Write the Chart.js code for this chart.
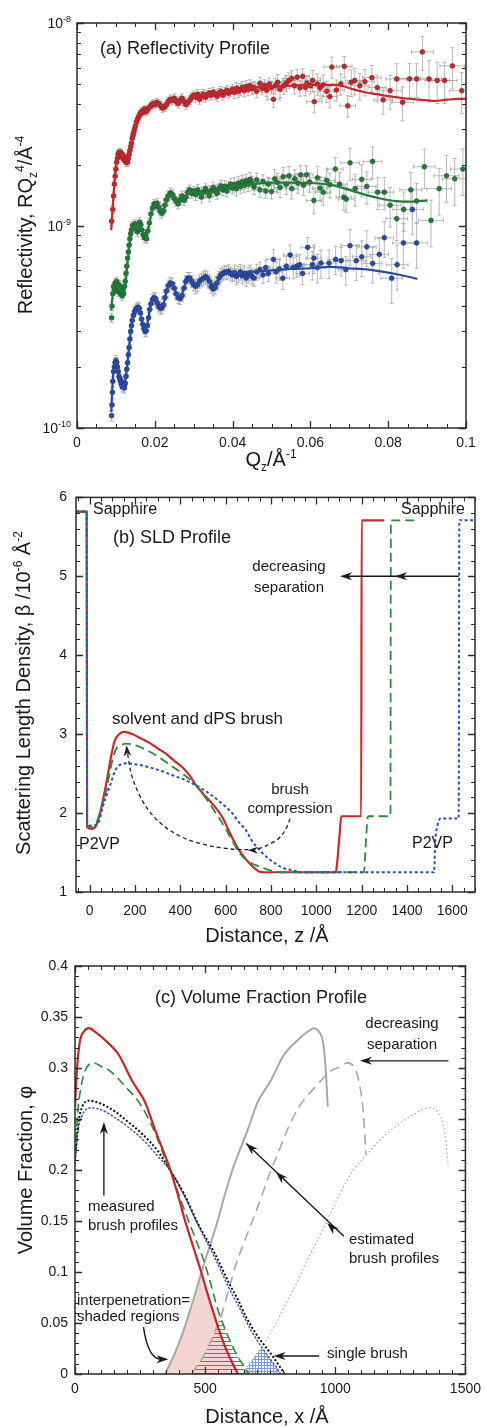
<!DOCTYPE html>
<html>
<head>
<meta charset="utf-8">
<script src="https://cdn.jsdelivr.net/npm/chart.js@4.4.1/dist/chart.umd.min.js"></script>
<style>
body { margin: 0; background: #fff; }
#wrap { position: relative; width: 488px; height: 1427px; }
canvas { position: absolute; left: 0; }
</style>
</head>
<body>
<div id="wrap">
  <canvas id="cA" width="488" height="480" style="top:0px"></canvas>
  <canvas id="cB" width="488" height="465" style="top:480px"></canvas>
  <canvas id="cC" width="488" height="482" style="top:945px"></canvas>
</div>
<script>
// ---------- (a) reflectivity: [Qz (1/Å), RQz^4 in units of 1e-10 Å^-4] ----------
const redPts = [[0.0089,10.5],[0.0092,12],[0.0094,14],[0.0096,16],[0.0098,17.5],[0.0100,19],[0.0102,20.5],[0.0104,21.5],[0.0106,22.5],[0.0108,23],[0.0110,22.5],[0.0112,23],[0.0114,22],[0.0116,22.5],[0.0118,21.5],[0.0120,22],[0.0122,21],[0.0124,21.5],[0.0126,20.5],[0.0128,21],[0.0130,20.5],[0.0132,21.5],[0.0134,22.5],[0.0136,23.5],[0.0138,24.5],[0.0140,25.5],[0.0142,27],[0.0144,28],[0.0146,29],[0.0148,30],[0.0150,31],[0.0153,32.5],[0.0156,33.5],[0.0159,34.5],[0.0162,35.5],[0.0165,36.5],[0.0168,36],[0.0171,37],[0.0174,37.5],[0.0177,36.5],[0.0180,37],[0.0184,38],[0.0188,38.5],[0.0192,39.5],[0.0196,40],[0.0200,39.5],[0.0205,40.5],[0.0210,40],[0.0215,39],[0.0220,38],[0.0225,38.5],[0.0230,39.5],[0.0235,41],[0.0240,42],[0.0245,41.5],[0.0250,42.5],[0.0255,41],[0.0260,40],[0.0265,41.5],[0.0270,42.5],[0.0275,41],[0.0280,39.5],[0.0285,40.5],[0.0290,41.5],[0.0295,43],[0.0300,44],[0.0305,43],[0.0310,44.5],[0.0315,42],[0.0320,43.5],[0.0325,44.5],[0.0330,43],[0.0335,44],[0.0340,45],[0.0345,44],[0.0350,45.5],[0.0355,44.5],[0.0360,43.5],[0.0365,45],[0.0370,46],[0.0375,44],[0.0380,45.5],[0.0385,46.5],[0.0390,45],[0.0395,46],[0.0400,47],[0.0405,45.5],[0.0410,47.5],[0.0415,46],[0.0420,47],[0.0425,48],[0.0430,46.5],[0.0435,48.5],[0.0440,47],[0.0445,49],[0.0450,47.5],
  [0.0455,48],[0.0462,46],[0.0470,50.4],[0.0476,47.5],[0.0482,49],[0.0488,46.5],[0.0494,50],[0.0500,48],[0.0505,42],[0.0510,49],[0.0516,51],[0.0522,47],[0.0531,48.9],[0.0538,50.5],[0.0545,52],[0.0552,53.3],[0.0559,49],[0.0566,54],[0.0573,47.8],[0.0580,54.5],[0.0587,48],[0.0591,50.4],[0.0600,49],[0.0606,52],[0.0610,40.9],[0.0618,50],[0.0625,47.8],[0.0633,49.5],[0.0642,46],[0.0650,43.3],[0.0655,60.6],[0.0667,46.7],[0.0678,50],[0.0687,61],[0.0696,39],[0.0705,51],[0.0714,52],[0.0727,49],[0.0740,51.3],[0.0758,53.7],[0.0772,48],[0.0787,41.7],[0.0805,46.3],[0.0822,52.9],[0.0837,40.6],[0.0855,53],[0.0873,52.9],[0.0888,72],[0.0905,52.9],[0.0926,52],[0.0945,52],[0.0965,61.4],[0.0989,46.3]];
const greenPts = [[0.0089,3.5],[0.0090,4.0],[0.0092,4.6],[0.0094,5.0],[0.0096,4.8],[0.0098,5.2],[0.0100,4.9],[0.0102,5.3],[0.0104,5.0],[0.0106,4.7],[0.0108,5.1],[0.0110,4.8],[0.0112,4.6],[0.0114,4.9],[0.0116,4.5],[0.0118,4.8],[0.0120,4.6],[0.0122,5.0],[0.0124,5.3],[0.0126,5.8],[0.0128,6.3],[0.0130,6.9],[0.0132,7.4],[0.0134,8.0],[0.0136,8.6],[0.0138,9.1],[0.0140,9.5],[0.0143,10.0],[0.0146,9.7],[0.0149,10.2],[0.0152,9.8],[0.0155,9.3],[0.0158,9.6],[0.0161,10.4],[0.0164,10.1],[0.0167,9.5],[0.0170,9.0],[0.0173,8.7],[0.0176,9.0],[0.0179,8.6],[0.0182,9.4],[0.0186,10.3],[0.0190,11.4],[0.0194,12.2],[0.0198,12.8],[0.0202,12.5],[0.0206,12.9],[0.0210,12.3],[0.0214,11.8],[0.0218,11.5],[0.0222,11.8],[0.0226,12.6],[0.0230,13.4],[0.0235,14.0],[0.0240,14.5],[0.0245,14.2],[0.0250,13.6],[0.0255,13.2],[0.0260,12.8],[0.0265,13.4],[0.0270,14.0],[0.0275,13.3],[0.0280,13.8],[0.0285,14.6],[0.0290,15.0],[0.0295,14.4],[0.0300,14.8],[0.0305,14.2],[0.0310,15.0],[0.0315,14.5],[0.0320,13.8],[0.0325,14.6],[0.0330,15.2],[0.0335,14.7],[0.0340,14.0],[0.0345,14.8],[0.0350,15.4],[0.0355,14.9],[0.0360,14.4],[0.0365,15.2],[0.0370,15.7],[0.0375,15.0],[0.0380,15.6],[0.0385,14.8],[0.0390,15.5],[0.0395,16.0],[0.0400,15.3],[0.0405,15.9],[0.0410,15.2],[0.0415,16.2],[0.0420,15.6],[0.0425,16.4],[0.0430,15.8],[0.0435,16.6],[0.0440,16.0],[0.0445,16.9],[0.0450,16.2],
  [0.0455,15.5],[0.0462,16.8],[0.0470,15.0],[0.0478,16.5],[0.0485,14.8],[0.0492,16.0],[0.0500,14.7],[0.0508,17.0],[0.0515,16.3],[0.0522,15.4],[0.0530,17.4],[0.0538,16.0],[0.0545,17.6],[0.0552,15.2],[0.0560,17.0],[0.0568,16.2],[0.0575,17.8],[0.0582,15.8],[0.0590,17.8],[0.0598,16.4],[0.0609,13.3],[0.0618,17.2],[0.0625,15.3],[0.0633,14.6],[0.0642,16.7],[0.0650,15.9],[0.0664,19.0],[0.0675,16.0],[0.0686,13.8],[0.0692,13.5],[0.0702,20.4],[0.0715,15.2],[0.0732,16.9],[0.0745,15.6],[0.0760,20.7],[0.0773,14.6],[0.0790,14.6],[0.0805,12.6],[0.0822,10.8],[0.0840,12.0],[0.0858,15.0],[0.0873,13.2],[0.0893,19.5],[0.0910,10.6],[0.0931,15.2],[0.0950,17.6],[0.0971,17.0],[0.0992,19.0]];
const bluePts = [[0.0089,1.15],[0.0090,1.3],[0.0091,1.5],[0.0092,1.7],[0.0094,1.9],[0.0096,2.0],[0.0098,2.1],[0.0100,2.15],[0.0102,2.1],[0.0104,2.0],[0.0106,1.9],[0.0108,1.8],[0.0110,1.75],[0.0112,1.7],[0.0114,1.65],[0.0116,1.6],[0.0118,1.68],[0.0120,1.62],[0.0122,1.58],[0.0124,1.66],[0.0126,1.8],[0.0128,1.95],[0.0130,2.1],[0.0132,2.3],[0.0134,2.5],[0.0136,2.75],[0.0138,3.0],[0.0140,3.2],[0.0142,3.4],[0.0145,3.6],[0.0148,3.75],[0.0151,3.85],[0.0154,3.9],[0.0157,3.95],[0.0160,3.9],[0.0163,3.7],[0.0166,3.45],[0.0169,3.25],[0.0172,3.1],[0.0175,3.0],[0.0178,3.02],[0.0181,3.2],[0.0184,3.5],[0.0187,3.85],[0.0190,4.1],[0.0194,4.3],[0.0198,4.4],[0.0202,4.35],[0.0206,4.15],[0.0210,4.0],[0.0214,3.9],[0.0218,3.92],[0.0222,4.05],[0.0226,4.4],[0.0230,4.75],[0.0235,5.05],[0.0240,5.2],[0.0245,5.15],[0.0250,4.9],[0.0255,4.6],[0.0260,4.4],[0.0265,4.35],[0.0270,4.5],[0.0275,4.9],[0.0280,5.3],[0.0285,5.5],[0.0290,5.5],[0.0295,5.3],[0.0300,5.1],[0.0305,5.0],[0.0310,5.1],[0.0315,5.3],[0.0320,5.4],[0.0325,5.5],[0.0330,5.6],[0.0335,5.5],[0.0340,5.3],[0.0345,5.0],[0.0350,4.85],[0.0355,4.95],[0.0360,5.2],[0.0365,5.5],[0.0370,5.7],[0.0375,5.8],[0.0380,5.9],[0.0385,5.85],[0.0390,5.95],[0.0395,5.8],[0.0400,5.7],[0.0405,5.85],[0.0410,5.6],[0.0415,5.75],[0.0420,5.9],[0.0425,5.65],[0.0430,5.8],[0.0435,5.5],[0.0440,5.7],[0.0445,5.85],[0.0450,5.6],
  [0.0455,5.5],[0.0462,5.9],[0.0470,6.05],[0.0478,5.7],[0.0485,6.2],[0.0492,5.8],[0.0505,6.8],[0.0512,5.9],[0.0520,6.1],[0.0529,5.49],[0.0538,6.3],[0.0548,7.15],[0.0556,6.2],[0.0565,6.3],[0.0572,6.4],[0.0580,5.8],[0.0593,7.8],[0.0605,6.4],[0.0609,6.9],[0.0618,6.2],[0.0627,6.52],[0.0648,6.52],[0.0665,6.8],[0.0679,6.7],[0.0691,6.05],[0.0702,7.95],[0.0718,6.7],[0.0732,7.0],[0.0745,7.85],[0.0760,6.5],[0.0777,7.2],[0.0790,8.7],[0.0809,5.49],[0.0823,6.4],[0.0839,8.2],[0.0862,12.0],[0.0873,8.2]];

const redFit = [[0.0088,9.5],[0.0092,12.5],[0.0096,16],[0.0100,19.5],[0.0104,22],[0.0108,23.2],[0.0112,23],[0.0116,22.2],[0.0120,21.5],[0.0124,21],[0.0128,21],[0.0132,21.8],[0.0136,23.5],[0.0140,26],[0.0144,28.5],[0.0148,31],[0.0152,33.5],[0.0156,35],[0.0160,36],[0.0165,36.5],[0.0170,36.5],[0.0175,36.8],[0.0180,37.5],[0.0190,39],[0.0200,40],[0.0210,39.8],[0.0220,39],[0.0230,39.8],[0.0240,41.5],[0.0250,42],[0.0260,41],[0.0270,41.5],[0.0280,41],[0.0290,42],[0.0300,43.5],[0.0320,44],[0.0340,44.5],[0.0360,45],[0.0380,45.5],[0.0400,46.5],[0.0420,47],[0.0450,48],[0.0500,48.5],[0.0550,49],[0.0600,49.5],[0.0650,49.5],[0.0680,49],[0.0710,47],[0.0740,45.5],[0.0770,44.5],[0.0800,43.5],[0.0840,42.5],[0.0880,41.8],[0.0920,41.2],[0.0950,41.8],[0.0980,42.2],[0.1000,42.2]];
const greenFit = [[0.0088,3.8],[0.0092,4.6],[0.0096,5.0],[0.0100,5.1],[0.0104,5.0],[0.0108,4.9],[0.0112,4.8],[0.0116,4.7],[0.0120,4.75],[0.0124,5.1],[0.0128,6.0],[0.0132,7.2],[0.0136,8.4],[0.0140,9.3],[0.0145,9.8],[0.0150,9.9],[0.0155,9.7],[0.0160,9.8],[0.0165,9.8],[0.0170,9.2],[0.0175,8.9],[0.0180,9.1],[0.0185,10.0],[0.0190,11.2],[0.0195,12.2],[0.0200,12.6],[0.0210,12.3],[0.0220,11.8],[0.0230,13.0],[0.0240,14.2],[0.0250,14.0],[0.0260,13.1],[0.0270,13.6],[0.0280,14.0],[0.0290,14.6],[0.0300,14.6],[0.0320,14.4],[0.0340,14.6],[0.0360,14.9],[0.0380,15.3],[0.0400,15.6],[0.0420,15.8],[0.0450,16.0],[0.0500,16.3],[0.0550,16.3],[0.0600,16.2],[0.0650,15.9],[0.0700,15.0],[0.0740,14.2],[0.0780,13.6],[0.0820,13.2],[0.0860,13.1],[0.0900,13.3]];
const blueFit = [[0.0088,1.2],[0.0091,1.6],[0.0094,1.95],[0.0097,2.1],[0.0100,2.12],[0.0104,1.98],[0.0108,1.8],[0.0112,1.67],[0.0116,1.6],[0.0120,1.62],[0.0124,1.72],[0.0128,1.95],[0.0132,2.3],[0.0136,2.75],[0.0140,3.2],[0.0145,3.6],[0.0150,3.85],[0.0155,3.92],[0.0160,3.85],[0.0165,3.5],[0.0170,3.2],[0.0175,3.05],[0.0180,3.2],[0.0185,3.65],[0.0190,4.1],[0.0195,4.35],[0.0200,4.35],[0.0210,4.0],[0.0220,4.0],[0.0230,4.7],[0.0240,5.15],[0.0250,4.9],[0.0260,4.45],[0.0270,4.6],[0.0280,5.25],[0.0290,5.45],[0.0300,5.2],[0.0310,5.15],[0.0320,5.35],[0.0330,5.5],[0.0340,5.35],[0.0350,5.1],[0.0360,5.3],[0.0380,5.75],[0.0400,5.8],[0.0420,5.85],[0.0450,5.9],[0.0500,6.0],[0.0550,6.1],[0.0600,6.15],[0.0650,6.25],[0.0700,6.15],[0.0750,6.05],[0.0800,5.85],[0.0840,5.65],[0.0875,5.45]];

// error bars, read per Q band (upper band edge), relative in R, absolute in Q
const errBandQ = [0.02, 0.03, 0.04, 0.05, 0.06, 0.07, 0.08, 0.09, 0.1];
const qErrBand = [0.0005, 0.0008, 0.001, 0.0013, 0.0017, 0.002, 0.0024, 0.0028, 0.0032];
const redErrBand = [0.045, 0.05, 0.055, 0.07, 0.09, 0.12, 0.15, 0.19, 0.23];
const greenErrBand = [0.05, 0.055, 0.065, 0.08, 0.11, 0.14, 0.18, 0.22, 0.26];
const blueErrBand = [0.06, 0.065, 0.075, 0.09, 0.12, 0.16, 0.2, 0.25, 0.3];
const qTicks = [0, 0.02, 0.04, 0.06, 0.08, 0.1];

// ---------- (b) SLD profile: [z (Å), SLD (1e-6 Å^-2)] ----------
const sldRed = [[-60,5.82],[-13,5.82],[-11,1.82],[10,1.8],[30,1.85],[50,2.05],[73,2.37],[95,2.72],[110,2.91],[130,3.0],[150,3.03],[190,3.0],[230,2.94],[264,2.89],[300,2.82],[338,2.75],[370,2.67],[409,2.58],[440,2.48],[470,2.35],[505,2.23],[541,2.12],[585,1.95],[620,1.74],[659,1.53],[700,1.38],[747,1.26],[770,1.25],[1085,1.25],[1102,1.7],[1110,1.96],[1198,1.96],[1200,5.71],[1300,5.71]];
const sldGreen = [[-60,5.82],[-13,5.82],[-11,1.85],[10,1.82],[30,1.88],[50,2.05],[73,2.28],[95,2.6],[115,2.8],[140,2.86],[160,2.88],[200,2.86],[250,2.8],[300,2.72],[350,2.62],[400,2.52],[440,2.43],[470,2.35],[510,2.2],[550,2.03],[590,1.85],[620,1.7],[660,1.5],[700,1.39],[750,1.32],[791,1.28],[850,1.25],[1210,1.25],[1220,1.7],[1228,1.96],[1327,1.96],[1329,5.71],[1435,5.71]];
const sldBlue = [[-60,5.82],[-13,5.82],[-11,1.88],[10,1.84],[37,1.87],[60,2.1],[88,2.33],[117,2.56],[140,2.62],[161,2.63],[200,2.62],[264,2.58],[320,2.53],[365,2.48],[420,2.42],[470,2.35],[541,2.22],[600,2.08],[629,2.0],[660,1.88],[690,1.78],[716,1.65],[760,1.5],[800,1.4],[850,1.31],[900,1.27],[940,1.25],[1520,1.25],[1524,1.6],[1535,1.85],[1548,1.93],[1628,1.93],[1631,5.71],[1700,5.71]];
const zTicks = [0, 200, 400, 600, 800, 1000, 1200, 1400, 1600];
const sldTicks = [1, 2, 3, 4, 5, 6];

// ---------- (c) volume fraction: [x (Å), phi] ----------
const phiRed = [[0,0.262],[8,0.3],[18,0.325],[35,0.336],[53,0.339],[80,0.335],[117,0.327],[168,0.313],[218,0.288],[270,0.266],[308,0.239],[340,0.218],[365,0.201],[395,0.176],[422,0.151],[455,0.124],[486,0.099],[510,0.078],[537,0.056],[563,0.036],[588,0.02],[610,0.008],[626,0]];
const phiGreen = [[0,0.215],[10,0.255],[22,0.28],[40,0.298],[72,0.305],[110,0.3],[130,0.298],[193,0.282],[257,0.262],[308,0.236],[340,0.215],[365,0.2],[400,0.175],[435,0.151],[470,0.128],[499,0.108],[525,0.085],[550,0.062],[575,0.045],[600,0.03],[630,0.015],[657,0.005],[667,0]];
const phiSingle = [[0,0.212],[12,0.245],[28,0.262],[53,0.268],[100,0.265],[150,0.258],[200,0.248],[260,0.235],[320,0.218],[365,0.2],[420,0.176],[473,0.147],[537,0.118],[600,0.085],[626,0.073],[657,0.056],[702,0.037],[752,0.02],[790,0.006],[805,0]];
const phiBlue = [[0,0.205],[10,0.235],[25,0.252],[60,0.261],[100,0.259],[150,0.252],[200,0.243],[260,0.23],[320,0.213],[365,0.2],[420,0.175],[473,0.146],[537,0.114],[600,0.08],[626,0.068],[657,0.052],[702,0.032],[752,0.014],[775,0.006],[790,0]];
const estSolid = [[346,0],[361,0.008],[383,0.02],[408,0.036],[434,0.056],[461,0.078],[485,0.099],[516,0.124],[549,0.151],[576,0.176],[606,0.201],[631,0.218],[663,0.239],[701,0.266],[753,0.288],[803,0.313],[854,0.327],[891,0.335],[918,0.339],[936,0.336],[953,0.325],[963,0.3],[971,0.262]];
const estDashed = [[451,0],[461,0.005],[488,0.015],[518,0.03],[543,0.045],[568,0.062],[593,0.085],[619,0.108],[648,0.128],[683,0.151],[718,0.175],[753,0.2],[778,0.215],[810,0.236],[861,0.262],[925,0.282],[988,0.298],[1008,0.3],[1046,0.305],[1078,0.298],[1096,0.28],[1108,0.255],[1118,0.215]];
const estDotted = [[644,0],[659,0.006],[682,0.014],[732,0.032],[777,0.052],[808,0.068],[834,0.08],[897,0.114],[961,0.146],[1014,0.175],[1069,0.2],[1114,0.213],[1174,0.23],[1234,0.243],[1284,0.252],[1334,0.259],[1364,0.261],[1400,0.254],[1420,0.238],[1434,0.205]];
const xTicksC = [0, 500, 1000, 1500];
const phiTicks = [0, 0.05, 0.1, 0.15, 0.2, 0.25, 0.3, 0.35, 0.4];

// ---------- helpers ----------
const FONT = "'Liberation Sans', Arial, Helvetica, sans-serif";
const INK = '#1a1a1a';
const RED = '#c9252c', GREEN = '#237b3a', BLUE = '#2a49a6', GRAY = '#a8a8a8';
Chart.defaults.font.family = FONT;
Chart.defaults.color = INK;

const toXY = pts => pts.map(p => ({ x: p[0], y: p[1] }));
function steps(a, b, s) { const out = []; for (let v = a; v <= b + s * 1e-6; v += s) out.push(+v.toFixed(6)); return out; }

function rich(ctx, segs, x, y, size, align, rot) {
  ctx.save();
  ctx.translate(x, y);
  if (rot) ctx.rotate(rot);
  const sm = Math.round(size * 0.62);
  let w = 0;
  const parts = segs.map(s => {
    const seg = typeof s === 'string' ? { t: s } : s;
    const sz = seg.sup || seg.sub ? sm : size;
    ctx.font = sz + 'px ' + FONT;
    const pw = ctx.measureText(seg.t).width;
    w += pw;
    return { t: seg.t, sz, w: pw, dy: seg.sup ? -size * 0.42 : seg.sub ? size * 0.22 : 0 };
  });
  let cx = align === 'center' ? -w / 2 : align === 'right' ? -w : 0;
  ctx.fillStyle = INK; ctx.textAlign = 'left'; ctx.textBaseline = 'alphabetic';
  parts.forEach(p => { ctx.font = p.sz + 'px ' + FONT; ctx.fillText(p.t, cx, size * 0.36 + p.dy); cx += p.w; });
  ctx.restore();
}
const txt = (ctx, t, x, y, size, align) => rich(ctx, [t], x, y, size, align || 'left');

function head(ctx, x, y, ang, len, wid) {
  len = len || 11; wid = wid || 4;
  ctx.save(); ctx.translate(x, y); ctx.rotate(ang);
  ctx.beginPath(); ctx.moveTo(0, 0); ctx.lineTo(-len, -wid); ctx.lineTo(-len * 0.7, 0); ctx.lineTo(-len, wid); ctx.closePath();
  ctx.fill(); ctx.restore();
}

// box with inward ticks on all four sides
function frame(xMaj, xMin, yMaj, yMin) {
  return {
    id: 'frame',
    afterDatasetsDraw(chart) {
      const { ctx, chartArea: a, scales: { x: xs, y: ys } } = chart;
      ctx.save();
      ctx.strokeStyle = '#2a2a2a';
      ctx.lineWidth = 1;
      ctx.beginPath();
      const vx = (vals, len) => vals.forEach(v => {
        const p = Math.round(xs.getPixelForValue(v)) + 0.5;
        ctx.moveTo(p, a.bottom); ctx.lineTo(p, a.bottom - len);
        ctx.moveTo(p, a.top); ctx.lineTo(p, a.top + len);
      });
      const vy = (vals, len) => vals.forEach(v => {
        const p = Math.round(ys.getPixelForValue(v)) + 0.5;
        ctx.moveTo(a.left, p); ctx.lineTo(a.left + len, p);
        ctx.moveTo(a.right, p); ctx.lineTo(a.right - len, p);
      });
      vx(xMin, 4); vy(yMin, 4);
      ctx.stroke();
      ctx.lineWidth = 1.3;
      ctx.beginPath();
      vx(xMaj, 7); vy(yMaj, 7);
      ctx.stroke();
      ctx.lineWidth = 1.5;
      ctx.strokeRect(a.left, a.top, a.right - a.left, a.bottom - a.top);
      ctx.restore();
    }
  };
}

function notes(top, draw) {
  return { id: 'notes', afterDraw(chart) { const ctx = chart.ctx; ctx.save(); ctx.translate(0, -top); draw(chart, ctx, (x, y) => [chart.scales.x.getPixelForValue(x), chart.scales.y.getPixelForValue(y) + top]); ctx.restore(); } };
}

function axes(o) {
  const base = { grid: { display: false, drawTicks: false }, border: { display: false } };
  return {
    x: Object.assign({}, base, {
      type: 'linear', min: o.xmin, max: o.xmax,
      afterBuildTicks: s => { s.ticks = o.xticks.map(v => ({ value: v })); },
      ticks: { font: { size: 14 }, padding: o.xpad, maxRotation: 0, autoSkip: false, callback: o.xfmt || (v => String(v)) },
      afterFit: s => { s.height = o.H; }
    }),
    y: Object.assign({}, base, {
      type: o.ytype || 'linear', min: o.ymin, max: o.ymax,
      afterBuildTicks: s => { s.ticks = o.yticks.map(v => ({ value: v })); },
      ticks: { display: o.ylabels !== false, font: { size: 14 }, padding: o.ypad, autoSkip: false, callback: o.yfmt || (v => String(v)) },
      afterFit: s => { s.width = o.L; }
    })
  };
}
const common = (pad, scales) => ({
  responsive: false, animation: false, devicePixelRatio: 1, events: [],
  layout: { padding: pad },
  plugins: { legend: { display: false }, tooltip: { enabled: false } },
  scales
});
const decFmt = v => (v === 0 ? '0' : String(Number(v.toFixed(2))));

// ---------- chart (a) ----------
const errBars = {
  id: 'errBars',
  beforeDatasetsDraw(chart) {
    const { ctx, chartArea: a, scales: { x: xs, y: ys } } = chart;
    ctx.save();
    ctx.beginPath(); ctx.rect(a.left, a.top, a.right - a.left, a.bottom - a.top); ctx.clip();
    ctx.strokeStyle = 'rgba(160,160,160,0.75)'; ctx.lineWidth = 1;
    ctx.beginPath();
    chart.data.datasets.forEach(ds => {
      if (!ds.errBand) return;
      ds.data.forEach(p => {
        let k = errBandQ.findIndex(q => p.x <= q); if (k < 0) k = errBandQ.length - 1;
        const dy = p.y * ds.errBand[k], dx = qErrBand[k];
        const x0 = xs.getPixelForValue(p.x), y0 = ys.getPixelForValue(p.y);
        const yt = ys.getPixelForValue(p.y + dy), yb = ys.getPixelForValue(p.y - dy);
        const xl = xs.getPixelForValue(p.x - dx), xr = xs.getPixelForValue(p.x + dx);
        ctx.moveTo(x0, yt); ctx.lineTo(x0, yb);
        ctx.moveTo(xl, y0); ctx.lineTo(xr, y0);
        ctx.moveTo(x0 - 2, yt); ctx.lineTo(x0 + 2, yt);
        ctx.moveTo(x0 - 2, yb); ctx.lineTo(x0 + 2, yb);
        ctx.moveTo(xl, y0 - 2); ctx.lineTo(xl, y0 + 2);
        ctx.moveTo(xr, y0 - 2); ctx.lineTo(xr, y0 + 2);
      });
    });
    ctx.stroke(); ctx.restore();
  }
};
const ptsSet = (pts, c, dark, band) => ({ data: toXY(pts), showLine: false, pointRadius: 2.4, pointBackgroundColor: c, pointBorderColor: dark, pointBorderWidth: 0.6, errBand: band, order: 2 });
const fitSet = (pts, c) => ({ data: toXY(pts), showLine: true, pointRadius: 0, borderColor: c, borderWidth: 2.2, cubicInterpolationMode: 'monotone', order: 1 });

new Chart(document.getElementById('cA'), {
  type: 'scatter',
  data: { datasets: [
    fitSet(redFit, RED), fitSet(greenFit, GREEN), fitSet(blueFit, BLUE),
    ptsSet(redPts, RED, '#8c1a1f', redErrBand), ptsSet(greenPts, GREEN, '#15532a', greenErrBand), ptsSet(bluePts, BLUE, '#1b3172', blueErrBand)
  ] },
  options: common({ left: 0, right: 22, top: 23, bottom: 0 }, axes({
    xmin: 0, xmax: 0.1, xticks: qTicks, xfmt: decFmt, xpad: 7, H: 52,
    ytype: 'logarithmic', ymin: 1, ymax: 100, yticks: [1, 10, 100], ylabels: false, ypad: 6, L: 77
  })),
  plugins: [errBars, frame(qTicks, steps(0.005, 0.095, 0.005), [1, 10, 100], [2,3,4,5,6,7,8,9,20,30,40,50,60,70,80,90]),
    notes(0, (chart, ctx) => {
      const ys = chart.scales.y;
      [[1, '-10'], [10, '-9'], [100, '-8']].forEach(([v, e]) => rich(ctx, ['10', { t: e, sup: 1 }], 71, ys.getPixelForValue(v), 14, 'right'));
      txt(ctx, '(a) Reflectivity Profile', 100, 48, 18);
      rich(ctx, ['Reflectivity, RQ', { t: 'z', sub: 1 }, { t: '4', sup: 1 }, '/Å', { t: '-4', sup: 1 }], 25, 225, 20, 'center', -Math.PI / 2);
      rich(ctx, ['Q', { t: 'z', sub: 1 }, '/Å', { t: '-1', sup: 1 }], 271, 459, 20, 'center');
    })]
});

// ---------- chart (b) ----------
const lineSet = (pts, c, w, dash) => ({ data: toXY(pts), showLine: true, pointRadius: 0, borderColor: c, borderWidth: w, borderDash: dash || [], cubicInterpolationMode: 'monotone' });
const TOPB = 480;
new Chart(document.getElementById('cB'), {
  type: 'scatter',
  data: { datasets: [lineSet(sldBlue, '#2b52bb', 2, [3, 2.5]), lineSet(sldGreen, '#2b8a3e', 1.8, [9, 5]), lineSet(sldRed, '#d0262d', 2.2)] },
  options: common({ left: 0, right: 13, top: 15, bottom: 0 }, axes({
    xmin: -60, xmax: 1700, xticks: zTicks, xpad: 11, H: 53,
    ymin: 1, ymax: 6, yticks: sldTicks, ypad: 9, L: 76
  })),
  plugins: [frame(zTicks, steps(-50, 1700, 50), sldTicks, steps(1.2, 5.8, 0.2)),
    notes(TOPB, (chart, ctx, P) => {
      txt(ctx, 'Sapphire', 93, 508, 16);
      txt(ctx, '(b) SLD Profile', 113, 537, 18);
      txt(ctx, 'Sapphire', 465, 508, 16, 'right');
      txt(ctx, 'decreasing', 289, 566, 15, 'center');
      txt(ctx, 'separation', 289, 587, 15, 'center');
      txt(ctx, 'solvent and dPS brush', 112, 718, 17);
      txt(ctx, 'brush', 290, 789, 15, 'center');
      txt(ctx, 'compression', 290, 808, 15, 'center');
      txt(ctx, 'P2VP', 79, 843, 16);
      txt(ctx, 'P2VP', 412, 842, 16);
      rich(ctx, ['Scattering Length Density, β /10', { t: '-6', sup: 1 }, ' Å', { t: '-2', sup: 1 }], 23, 693, 20, 'center', -Math.PI / 2);
      txt(ctx, 'Distance, z /Å', 267, 935, 20, 'center');
      // decreasing separation arrow
      ctx.strokeStyle = INK; ctx.fillStyle = INK; ctx.lineWidth = 1.4;
      let a = P(1629, 5.0), b = P(1105, 5.0), c = P(1347, 5.0);
      ctx.beginPath(); ctx.moveTo(a[0], a[1]); ctx.lineTo(b[0] + 6, b[1]); ctx.stroke();
      head(ctx, b[0], b[1], Math.PI, 12, 4); head(ctx, c[0], c[1], Math.PI, 12, 4);
      // brush compression dashed arrow
      const path = [[884, 1.93], [862, 1.72], [774, 1.57], [716, 1.53], [575, 1.55], [399, 1.68], [266, 1.97], [187, 2.41], [165, 2.8]].map(p => P(p[0], p[1]));
      ctx.setLineDash([4, 3]); ctx.lineWidth = 1.3; ctx.strokeStyle = '#222';
      ctx.beginPath(); ctx.moveTo(path[0][0], path[0][1]);
      for (let i = 1; i < path.length - 1; i++) {
        const mx = (path[i][0] + path[i + 1][0]) / 2, my = (path[i][1] + path[i + 1][1]) / 2;
        ctx.quadraticCurveTo(path[i][0], path[i][1], mx, my);
      }
      ctx.lineTo(path[path.length - 1][0], path[path.length - 1][1]);
      ctx.stroke(); ctx.setLineDash([]);
      ctx.fillStyle = '#222';
      const tip = P(163, 2.86);
      head(ctx, tip[0], tip[1], -Math.PI / 2 - 0.08, 11, 3.8);
      const mid = P(716, 1.53);
      head(ctx, mid[0] - 4, mid[1], Math.PI, 10, 3.5);
    })]
});

// ---------- chart (c) ----------
function pattern(size, draw) {
  const c = document.createElement('canvas'); c.width = size; c.height = size;
  draw(c.getContext('2d')); return c;
}
const TOPC = 945;
const overlapPlugin = {
  id: 'overlap',
  beforeDatasetsDraw(chart) {
    const { ctx, chartArea: a } = chart;
    const green = ctx.createPattern(pattern(4, g => { g.strokeStyle = '#3d9a4e'; g.lineWidth = 1; g.beginPath(); g.moveTo(0, 0.5); g.lineTo(4, 0.5); g.stroke(); }), 'repeat');
    const blue = ctx.createPattern(pattern(3, g => { g.strokeStyle = '#7d98dc'; g.lineWidth = 1; g.beginPath(); g.moveTo(0, 0.5); g.lineTo(3, 0.5); g.moveTo(0.5, 0); g.lineTo(0.5, 3); g.stroke(); }), 'repeat');
    const under = meta => {
      const pts = meta.data;
      ctx.moveTo(pts[0].x, a.bottom);
      pts.forEach(p => ctx.lineTo(p.x, p.y));
      ctx.lineTo(pts[pts.length - 1].x, a.bottom);
      ctx.closePath();
    };
    [[0, 4, '#f4d3d3'], [1, 5, green], [3, 6, blue]].forEach(([i, j, style]) => {
      ctx.save();
      ctx.beginPath(); under(chart.getDatasetMeta(i)); ctx.clip();
      ctx.beginPath(); under(chart.getDatasetMeta(j));
      ctx.fillStyle = style; ctx.fill();
      ctx.restore();
    });
  }
};
new Chart(document.getElementById('cC'), {
  type: 'scatter',
  data: { datasets: [
    lineSet(phiRed, '#cc2229', 2.2),
    lineSet(phiGreen, '#2b8a3e', 1.6, [9, 5]),
    lineSet(phiSingle, '#111', 2, [2, 2]),
    lineSet(phiBlue, '#2f55b5', 1.4, [2.5, 1.5]),
    lineSet(estSolid, GRAY, 2),
    lineSet(estDashed, GRAY, 1.6, [10, 6]),
    lineSet(estDotted, GRAY, 1.2, [1.5, 2.5])
  ] },
  options: common({ left: 0, right: 20, top: 21, bottom: 0 }, axes({
    xmin: 0, xmax: 1500, xticks: xTicksC, xpad: 7, H: 53,
    ymin: 0, ymax: 0.4, yticks: phiTicks, yfmt: decFmt, ypad: 7, L: 75
  })),
  plugins: [overlapPlugin, frame(xTicksC, steps(50, 1450, 50), phiTicks, steps(0.01, 0.39, 0.01)),
    notes(TOPC, (chart, ctx, P) => {
      txt(ctx, '(c) Volume Fraction Profile', 155, 997, 18);
      txt(ctx, 'decreasing', 402, 1023, 15, 'center');
      txt(ctx, 'separation', 402, 1044, 15, 'center');
      txt(ctx, 'measured', 88, 1206, 15);
      txt(ctx, 'brush profiles', 88, 1225, 15);
      txt(ctx, 'interpenetration=', 77, 1300, 15);
      txt(ctx, 'shaded regions', 77, 1316, 15);
      txt(ctx, 'estimated', 349, 1239, 15);
      txt(ctx, 'brush profiles', 349, 1258, 15);
      txt(ctx, 'single brush', 327, 1353, 15);
      rich(ctx, ['Volume Fraction, φ'], 25, 1170, 20, 'center', -Math.PI / 2);
      txt(ctx, 'Distance, x /Å', 267, 1416, 20, 'center');
      ctx.strokeStyle = INK; ctx.fillStyle = INK; ctx.lineWidth = 1.4;
      const line = (p, q) => { ctx.beginPath(); ctx.moveTo(p[0], p[1]); ctx.lineTo(q[0], q[1]); ctx.stroke(); };
      // decreasing separation
      let a = P(1435, 0.307), b = P(1095, 0.307);
      line(a, [b[0] + 6, b[1]]); head(ctx, b[0], b[1], Math.PI, 12, 4);
      // measured brush profiles
      a = P(111, 0.175); b = P(111, 0.247);
      line(a, [b[0], b[1] + 6]); head(ctx, b[0], b[1], -Math.PI / 2, 12, 4);
      // estimated brush profiles
      a = P(1033, 0.135); b = P(658, 0.226);
      const ang = Math.atan2(b[1] - a[1], b[0] - a[0]);
      line(a, b);
      [[658, 0.226], [772, 0.198], [969, 0.148]].forEach(p => { const q = P(p[0], p[1]); head(ctx, q[0], q[1], ang, 12, 4); });
      // single brush
      a = P(938, 0.0176); b = P(763, 0.0176);
      line(a, [b[0] + 6, b[1]]); head(ctx, b[0], b[1], Math.PI, 12, 4);
      // interpenetration curved arrow
      a = P(263, 0.046); const cp = P(282, 0.013); b = P(359, 0.0145);
      ctx.beginPath(); ctx.moveTo(a[0], a[1]); ctx.quadraticCurveTo(cp[0], cp[1], b[0] - 6, b[1]); ctx.stroke();
      head(ctx, b[0], b[1], 0, 12, 4);
    })]
});
</script>
</body>
</html>
